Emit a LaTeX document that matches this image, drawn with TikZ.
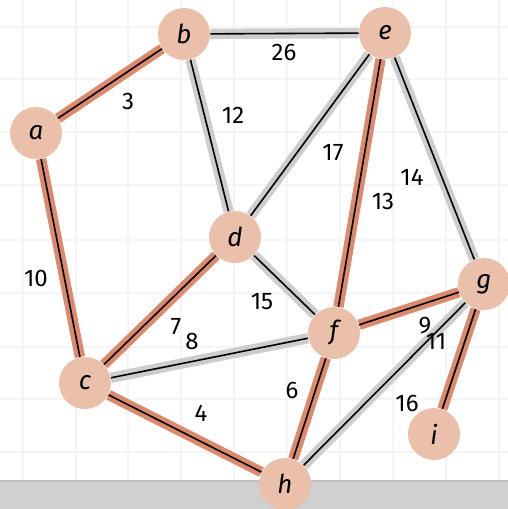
\documentclass[tikz,border=0pt]{standalone}
\usepackage{fontspec}
\setmainfont{Fira Sans}
\setsansfont{Fira Sans}
\usetikzlibrary{backgrounds}
\definecolor{nodefill}{HTML}{EBC0AA}
\definecolor{mstband}{HTML}{DC8A6E}
\definecolor{grayband}{HTML}{CDCDCD}
\definecolor{gridcol}{HTML}{F5F5F5}
\definecolor{barcol}{HTML}{D0D0D0}
\tikzset{
  vertex/.style={circle,fill=nodefill,minimum size=26pt,inner sep=0pt,
    font=\fontsize{13}{15}\selectfont\itshape},
  wlabel/.style={font=\fontsize{12}{14}\selectfont,inner sep=1pt},
  mstedge/.style={draw=mstband,line width=5.2pt},
  otheredge/.style={draw=grayband,line width=5.2pt},
  core/.style={draw=black,line width=0.8pt},
}
\begin{document}
\begin{tikzpicture}[x=0.5pt,y=-0.5pt]
\useasboundingbox (0,0) rectangle (508,509);
% nodes
\node[vertex] (a) at (36,133) {a};
\node[vertex] (b) at (184,34) {b};
\node[vertex] (e) at (385,33) {e};
\node[vertex] (d) at (235,237) {d};
\node[vertex] (c) at (85,383) {c};
\node[vertex] (f) at (334,333) {f};
\node[vertex] (g) at (484,284) {g};
\node[vertex] (h) at (285,484) {h};
\node[vertex] (i) at (434,434) {i};
\begin{pgfonlayer}{background}
  % faint grid
  \foreach \x in {23,76,128,181,234,287,340,393,446,499}
    \draw[gridcol,line width=0.6pt] (\x,0) -- (\x,480);
  \foreach \y in {27,79,132,185,240,293,347,399,452}
    \draw[gridcol,line width=0.6pt] (0,\y) -- (508,\y);
  % bottom bar
  \fill[barcol] (0,480) rectangle (508,509);
  \draw[black!25,line width=1pt] (0,480.5) -- (508,480.5);
  % bands
  \foreach \u/\v in {a/b,a/c,c/d,c/h,e/f,f/g,f/h,g/i}
    \path[mstedge] (\u) -- (\v);
  \foreach \u/\v in {b/e,b/d,d/e,d/f,c/f,e/g,g/h}
    \path[otheredge] (\u) -- (\v);
  % black cores
  \foreach \u/\v in {a/b,a/c,c/d,c/h,e/f,f/g,f/h,g/i,b/e,b/d,d/e,d/f,c/f,e/g,g/h}
    \path[core] (\u) -- (\v);
\end{pgfonlayer}
% weight labels
\node[wlabel] (l3) at (128,101) {3};
\node[wlabel] (l12) at (233,115) {12};
\node[wlabel] (l26) at (284,52) {26};
\node[wlabel] (l17) at (333,153) {17};
\node[wlabel] (l13) at (383,201) {13};
\node[wlabel] (l14) at (412,177) {14};
\node[wlabel] (l10) at (36,278) {10};
\node[wlabel] (l7) at (176,327) {7};
\node[wlabel] (l8) at (192,341) {8};
\node[wlabel] (l15) at (262,302) {15};
\node[wlabel] (l9) at (425,326) {9};
\node[wlabel] (l11) at (436,341) {11};
\node[wlabel] (l6) at (292,390) {6};
\node[wlabel] (l4) at (201,413) {4};
\node[wlabel] (l16) at (407,403) {16};
\end{tikzpicture}
\end{document}
